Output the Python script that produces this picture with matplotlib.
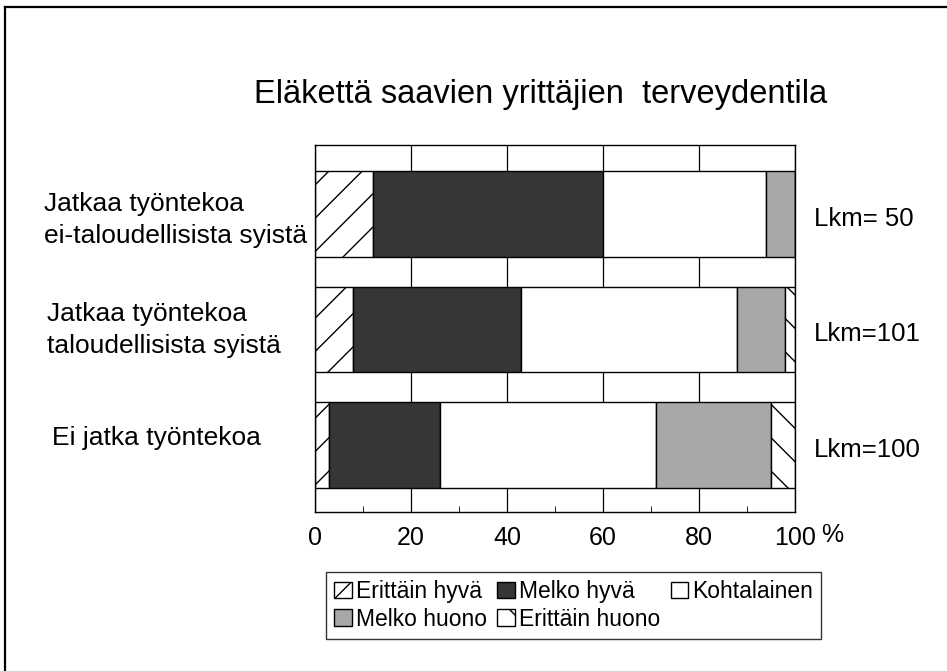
import numpy as np
import matplotlib
matplotlib.use('Agg')
from matplotlib import pyplot as plt
from matplotlib.lines import Line2D
from matplotlib.transforms import blended_transform_factory

plt.rcParams['font.family'] = ['Liberation Sans', 'DejaVu Sans']

# bottom -> top
groups = ['Ei jatka työntekoa',
          'Jatkaa työntekoa\ntaloudellisista syistä',
          'Jatkaa työntekoa\nei-taloudellisista syistä']
counts = ['Lkm=100', 'Lkm=101', 'Lkm= 50']
categories = ['Erittäin hyvä', 'Melko hyvä', 'Kohtalainen', 'Melko huono', 'Erittäin huono']
erittain_hyva = [3, 8, 12]
melko_hyva = [23, 35, 48]
kohtalainen = [45, 45, 34]
melko_huono = [24, 10, 6]
erittain_huono = [5, 2, 0]
x_ticks = [0, 20, 40, 60, 80, 100]

series = [erittain_hyva, melko_hyva, kohtalainen, melko_huono, erittain_huono]
faces = ['white', '#363636', 'white', '#a8a8a8', 'white']
hatches = ['/', None, None, None, '\\']

fig = plt.figure(figsize=(9.47, 6.71), dpi=100)
ax = fig.add_axes([0.3326, 0.237, 0.5069, 0.547])

y = np.arange(len(groups))
left = np.zeros(len(groups))
handles = []
for vals, fc, h, lab in zip(series, faces, hatches, categories):
    vals = np.array(vals, dtype=float)
    b = ax.barh(y, vals, left=left, height=0.74, color=fc, edgecolor='black',
                linewidth=1.0, hatch=h, label=lab, zorder=2)
    handles.append(b)
    left += vals

ax.set_xlim(0, 100)
ax.set_ylim(-0.58, 2.6)
ax.set_xticks(x_ticks)
ax.set_xticklabels([str(t) for t in x_ticks], fontsize=18)
ax.set_xticks([10, 30, 50, 70, 90], minor=True)
ax.tick_params(axis='x', which='both', direction='in', length=4, pad=10)
ax.tick_params(axis='x', which='major', length=0)
ax.set_yticks(y)
ax.set_yticklabels([])
ax.tick_params(axis='y', direction='in', length=6)
ax.grid(axis='x', color='black', linewidth=0.9, zorder=0)
ax.set_axisbelow(True)
for s in ax.spines.values():
    s.set_linewidth(1.0)

trans = blended_transform_factory(fig.transFigure, ax.transData)
label_x = [0.055, 0.050, 0.046]
label_dy = [0.06, 0.0, -0.05]
for yi, g, lx, dy in zip(y, groups, label_x, label_dy):
    ax.text(lx, yi + dy, g, transform=trans, ha='left', va='center',
            fontsize=19, linespacing=1.42)
for yi, c in zip(y, counts):
    ax.text(1.04, yi - 0.04, c, transform=ax.get_yaxis_transform(), ha='left',
            va='center', fontsize=18.5)
ax.text(1.077, -0.063, '%', transform=ax.transAxes, ha='center', va='center', fontsize=18)

fig.text(0.571, 0.859, 'Eläkettä saavien yrittäjien  terveydentila',
         ha='center', va='center', fontsize=23.5)

order = [0, 3, 1, 4, 2]
leg = fig.legend([handles[i] for i in order], [categories[i] for i in order],
                 loc='center', bbox_to_anchor=(0.606, 0.098), ncol=3,
                 fontsize=16.5, frameon=True, fancybox=False, edgecolor='black',
                 handlelength=0.75, handleheight=0.75, handletextpad=0.2,
                 columnspacing=0.45, labelspacing=0.2, borderpad=0.35)
leg.get_frame().set_linewidth(1.0)

# outer frame: top and left edges only
fig.add_artist(Line2D([0.0055, 1.0], [0.989, 0.989], transform=fig.transFigure,
                      color='black', linewidth=1.6))
fig.add_artist(Line2D([0.0055, 0.0055], [0.0, 0.989], transform=fig.transFigure,
                      color='black', linewidth=1.6))

fig.savefig('out.png', dpi=100)
